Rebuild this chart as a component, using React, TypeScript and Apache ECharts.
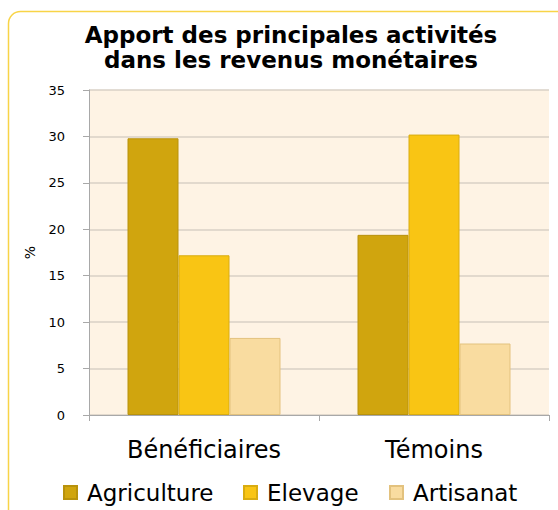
import React, { useEffect, useRef } from "react";
import * as echarts from "echarts";

const categories = ["Bénéficiaires", "Témoins"];
const seriesNames = ["Agriculture", "Elevage", "Artisanat"];
const agriculture = [29.8, 19.4];
const elevage = [17.2, 30.2];
const artisanat = [8.3, 7.7];
const yTicks = [0, 5, 10, 15, 20, 25, 30, 35];

const colors = ["#D0A50E", "#F9C514", "#F9DCA0"];
const borders = ["#B8920C", "#D9AC10", "#E3C27E"];
const legendLeft = [63, 243, 389];

const FONT = "DejaVu Sans";

export default function App() {
  const ref = useRef<HTMLDivElement>(null);
  useEffect(() => {
    const chart = echarts.init(ref.current!, null, { renderer: "svg" });
    const values = [agriculture, elevage, artisanat];
    chart.setOption({
      animation: false,
      backgroundColor: "#FFFFFF",
      title: {
        text: "Apport des principales activités\ndans les revenus monétaires",
        left: 286,
        textAlign: "center",
        top: 17,
        textStyle: {
          fontFamily: FONT,
          fontWeight: "bold",
          fontSize: 23,
          lineHeight: 25,
          color: "#000",
        },
      },
      graphic: [
        {
          type: "rect",
          shape: { x: 8.5, y: 11.5, width: 700, height: 700, r: 12 },
          style: { fill: "none", stroke: "#F8D447", lineWidth: 1.5 },
          silent: true,
          z: -10,
        },
      ],
      legend: seriesNames.map((name, i) => ({
        top: 481,
        left: legendLeft[i],
        padding: 0,
        itemWidth: 13,
        itemHeight: 13,
        icon: "rect",
        textStyle: { fontFamily: FONT, fontSize: 23, color: "#000", padding: [0, 0, 0, 5] },
        data: [name],
      })),
      grid: {
        left: 89,
        right: 9,
        top: 90,
        bottom: 95,
        show: true,
        backgroundColor: "#FEF3E4",
        borderWidth: 0,
      },
      xAxis: {
        type: "category",
        data: categories,
        axisLine: { lineStyle: { color: "#A8A8A8" } },
        axisTick: { show: true, length: 6, lineStyle: { color: "#A8A8A8" } },
        axisLabel: { fontFamily: FONT, fontSize: 24, color: "#000", margin: 23 },
      },
      yAxis: {
        type: "value",
        min: 0,
        max: 35,
        interval: 5,
        name: "%",
        nameLocation: "middle",
        nameGap: 52,
        nameRotate: 90,
        nameTextStyle: { fontFamily: FONT, fontSize: 14, color: "#000" },
        axisLine: { show: true, lineStyle: { color: "#A8A8A8" } },
        axisTick: { show: true, length: 6, lineStyle: { color: "#A8A8A8" } },
        axisLabel: {
          fontFamily: FONT,
          fontSize: 13,
          color: "#000",
          margin: 24,
          formatter: (v: number) => (yTicks.includes(v) ? String(v) : ""),
        },
        splitLine: { lineStyle: { color: "#D9D0C6", width: 1.5 } },
      },
      series: seriesNames.map((name, i) => ({
        name,
        type: "bar",
        data: values[i],
        barWidth: 51,
        barGap: "0%",
        itemStyle: { color: colors[i], borderColor: borders[i], borderWidth: 1 },
      })),
    });
    return () => chart.dispose();
  }, []);
  return <div ref={ref} style={{ width: 558, height: 510, position: "absolute", left: 0, top: 0 }} />;
}
